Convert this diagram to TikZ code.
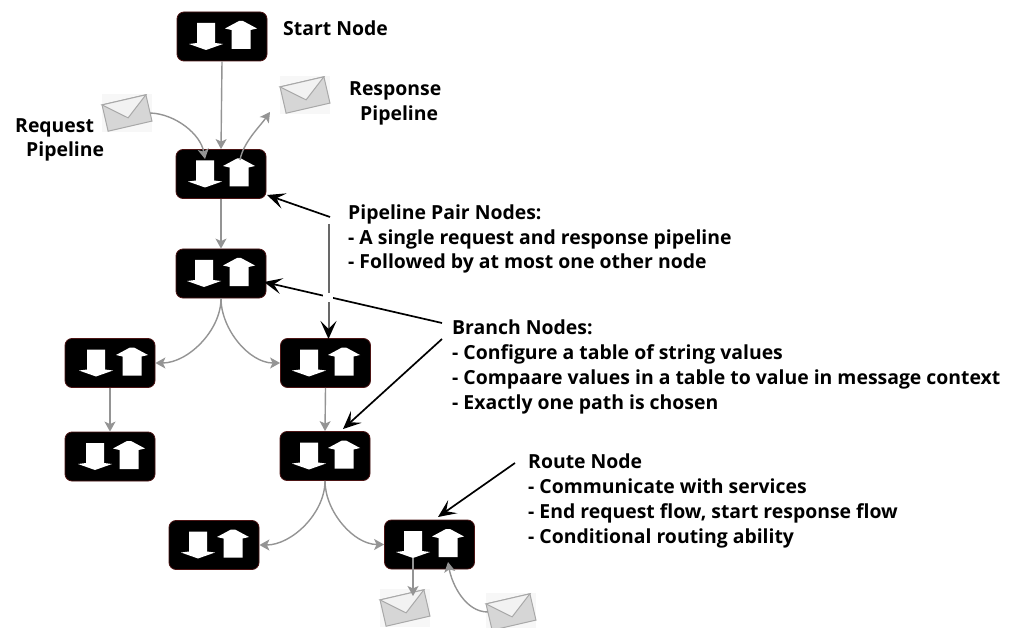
\documentclass[tikz,border=0pt]{standalone}
\usepackage{fontspec}
\setmainfont{Open Sans}
\usetikzlibrary{arrows.meta}
\definecolor{linegray}{gray}{0.58}
\definecolor{envfill}{gray}{0.84}
\definecolor{envline}{gray}{0.66}
\definecolor{envpaper}{gray}{0.95}
\definecolor{envback}{gray}{0.97}
\definecolor{nodeedge}{rgb}{0.30,0.08,0.08}
\tikzset{
  x=1bp,y=-1bp,
  pipebox/.style={draw=nodeedge,line width=0.8bp,fill=black,rounded corners=7bp,inner sep=0pt,minimum width=90bp,minimum height=49bp},
  flow/.style={draw=linegray,line width=1.4bp,-{Stealth[length=10bp,width=11bp,inset=2.5bp]}},
  callout/.style={draw=black,line width=1.7bp,-{Stealth[length=18bp,width=16bp,inset=8bp]}},
  label/.style={font=\bfseries\fontsize{19.4bp}{24.7bp}\selectfont,align=left,anchor=north west,inner sep=0pt,text=black},
  whitearrow/.style={fill=white,draw=none},
}
% #1 name, #2 centre x, #3 centre y, #4 down-arrow axis offset, #5 up-arrow axis offset
\newcommand{\pipenode}[5]{%
  \node[pipebox] (#1) at (#2,#3) {};
  \begin{scope}[shift={(#2,#3)}]
    \path[whitearrow] (#4-9,-13.5)--(#4+9,-13.5)--(#4+9,6.5)--(#4+17,7.5)--(#4,13.5)--(#4-17,7.5)--(#4-9,6.5)--cycle;
    \path[whitearrow] (#5-9.5,12.5)--(#5+9.5,12.5)--(#5+9.5,-6.5)--(#5+16,-8)--(#5+2,-15.5)--(#5-2,-15.5)--(#5-16,-8)--(#5-9.5,-6.5)--cycle;
  \end{scope}}
% #1 name, #2 centre x, #3 centre y
\newcommand{\envelope}[3]{%
  \path[fill=envback] (#2-25,#3-19) rectangle (#2+25,#3+19);
  \node[inner sep=0pt,minimum width=46bp,minimum height=30bp] (#1) at (#2,#3) {};
  \begin{scope}[shift={(#2,#3)},rotate=13]
    \path[draw=envline,line width=1bp,fill=envfill] (-22.5,-13.5)--(22.5,-13.5)--(22.5,13.5)--(-22.5,13.5)--cycle;
    \path[draw=envline,line width=1bp,fill=envpaper] (-22.5,-13.5)--(0,5)--(22.5,-13.5)--cycle;
  \end{scope}}
\begin{document}
\begin{tikzpicture}
\useasboundingbox (0,0) rectangle (1015,628);
\fill[white] (0,0) rectangle (1015,628);

\pipenode{start}{222}{36.5}{-16}{19}
\pipenode{pairA}{221}{174}{-16}{18}
\pipenode{branchA}{221}{273.5}{-17}{18}
\pipenode{pairL}{110}{363}{-14}{22}
\pipenode{pairR}{325.5}{363}{-16.5}{18.5}
\pipenode{pairLL}{110}{456.5}{-15}{19}
\pipenode{branchB}{325}{456}{-16}{19}
\pipenode{pairB}{214}{545}{-16}{19}
\pipenode{route}{429.5}{544.5}{-16.5}{18.5}

\envelope{envIn}{127}{113}
\envelope{envOut}{305}{95}
\envelope{envSend}{405}{608}
\envelope{envBack}{511}{612}

\coordinate (inTip) at (205,159);
\coordinate (outTail) at (240,160);
\coordinate (outTip) at (270,112);
\coordinate (sendTail) at (413,558);
\coordinate (sendTip) at (413,596);
\coordinate (backTip) at (448,562);

\draw[flow] (start.south) -- (pairA.north);
\draw[flow] (pairA.south) -- (branchA.north);
\draw[flow] (branchA.south) to[out=-90,in=0,looseness=0.9] (pairL.east);
\draw[flow] (branchA.south) to[out=-90,in=180,looseness=0.9] (pairR.west);
\draw[flow] (pairL.south) -- (pairLL.north);
\draw[flow] (pairR.south) -- (branchB.north);
\draw[flow] (branchB.south) to[out=-90,in=0,looseness=0.9] (pairB.east);
\draw[flow] (branchB.south) to[out=-90,in=180,looseness=0.9] (route.west);
\draw[flow] (envIn.east) to[out=-2,in=100,looseness=0.9] (inTip);
\draw[flow] (outTail) to[out=80,in=-125,looseness=0.8] (outTip);
\draw[flow] (sendTail) -- (sendTip);
\draw[flow] (envBack.west) to[out=180,in=-80,looseness=0.9] (backTip);

\node[label] (tStart) at (283,21) {Start Node};
\node[label] (tResp) at (349,81.5) {Response\\\hspace*{11bp}Pipeline};
\node[label] (tReq) at (15,118) {Request\\\hspace*{11bp}Pipeline};
\node[label] (tPair) at (348,204.5) {Pipeline Pair Nodes:\\- A single request and response pipeline\\- Followed by at most one other node};
\node[label] (tBranch) at (452,320) {Branch Nodes:\\- Configure a table of string values\\- Compaare values in a table to value in message context\\- Exactly one path is chosen};
\node[label] (tRoute) at (528,454) {Route Node\\- Communicate with services\\- End request flow, start response flow\\- Conditional routing ability};

\coordinate (pairFrom) at (330,217);
\coordinate (pairTo) at (267,195);
\coordinate (pairDown) at (328.5,224);
\coordinate (pairDownTo) at (328.5,339);
\coordinate (brFrom) at (442,323);
\coordinate (brTo) at (264,282);
\coordinate (brFromB) at (442,339);
\coordinate (brToB) at (343,429);
\coordinate (rtFrom) at (515,463);
\coordinate (rtTo) at (438,517);

\draw[callout] (pairFrom) -- (pairTo);
\draw[callout,draw=linegray!70!black,line width=2bp,-{Stealth[length=18bp,width=16bp,inset=8bp,color=black]}] (pairDown) -- (pairDownTo);
\draw[callout] (brFrom) -- (brTo);
\fill[white] (323,293) rectangle (333,302);
\draw[callout] (brFromB) -- (brToB);
\draw[callout] (rtFrom) -- (rtTo);
\end{tikzpicture}
\end{document}
